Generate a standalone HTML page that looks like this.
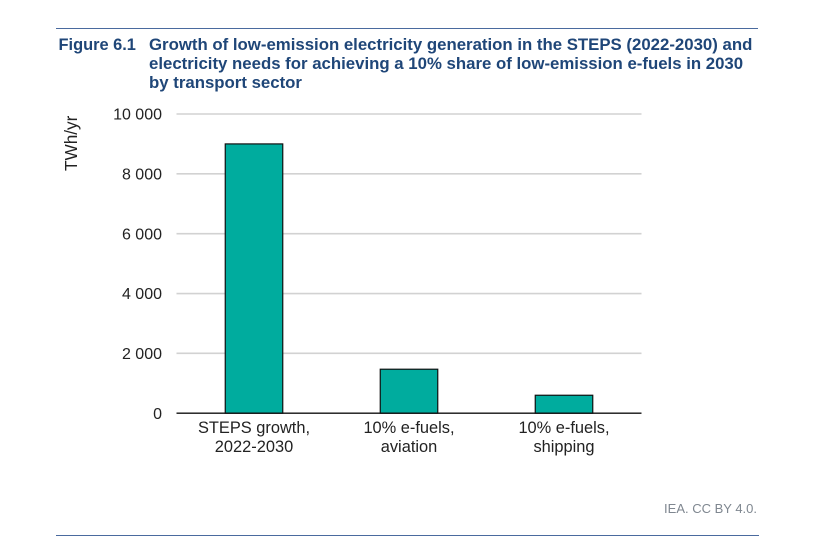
<!DOCTYPE html>
<html lang="en">
<head>
<meta charset="utf-8">
<title>Figure 6.1</title>
<style>
html,body{margin:0;padding:0;background:#fff;}
body{width:832px;height:559px;overflow:hidden;position:relative;font-family:"Liberation Sans",sans-serif;}
svg{position:absolute;left:0;top:0;}
</style>
</head>
<body>
<svg id="chart" width="832" height="559" viewBox="0 0 832 559" font-family="'Liberation Sans',sans-serif">
<line x1="56" y1="28.5" x2="758" y2="28.5" stroke="#4a6a9e" stroke-width="1"/>
<g font-size="16.8" font-weight="bold" fill="#1f4678">
<text x="58.5" y="50" font-size="16.4">Figure 6.1</text>
<text x="149" y="50">Growth of low-emission electricity generation in the STEPS (2022-2030) and</text>
<text x="149" y="69">electricity needs for achieving a 10% share of low-emission e-fuels in 2030</text>
<text x="149" y="88">by transport sector</text>
</g>
<g id="grid"></g>
<g id="yticks"></g>
<g id="bars"></g>
<line id="baseline" stroke="#111" stroke-width="1.3"/>
<g id="xlabels"></g>
<text transform="translate(77,171) rotate(-90)" font-size="17.2" fill="#222">TWh/yr</text>
<text x="757" y="513" text-anchor="end" font-size="13" fill="#7f8790">IEA. CC BY 4.0.</text>
<line x1="56" y1="535.5" x2="759" y2="535.5" stroke="#4a6a9e" stroke-width="1"/>
</svg>
<script>
const categoryLines = [["STEPS growth,", "2022-2030"], ["10% e-fuels,", "aviation"], ["10% e-fuels,", "shipping"]];
const seriesValues = [9000, 1470, 600];
const tickValues = [0, 2000, 4000, 6000, 8000, 10000];
const tickLabels = ["0", "2 000", "4 000", "6 000", "8 000", "10 000"];

const NS = "http://www.w3.org/2000/svg";
const plot = {left: 176.5, right: 641.5, top: 114, bottom: 413.2, max: 10000, barWidth: 57.5};
function yScale(v) { return plot.bottom - (v / plot.max) * (plot.bottom - plot.top); }
function xCenter(i) { return plot.left + (plot.right - plot.left) * (i + 0.5) / categoryLines.length; }
function make(tag, attrs, parent, text) {
  const el = document.createElementNS(NS, tag);
  for (const k in attrs) el.setAttribute(k, attrs[k]);
  if (text !== undefined) el.textContent = text;
  parent.appendChild(el);
  return el;
}
const grid = document.getElementById("grid");
const yticks = document.getElementById("yticks");
const barsG = document.getElementById("bars");
const xlabels = document.getElementById("xlabels");









tickValues.forEach(function (v, i) {
  const y = yScale(v);
  if (v !== 0) {
    const g = make("line", {x1: plot.left, x2: plot.right, y1: y, y2: y, stroke: "#d2d2d2", "stroke-width": 1.6}, grid);
    
    
  }
  const t = make("text", {x: 162, y: y + 5.6, "text-anchor": "end", "font-size": 16, fill: "#222"}, yticks, tickLabels[i]);
  
  
});

seriesValues.forEach(function (v, i) {
  const cx = xCenter(i);
  const r = make("rect", {x: cx - plot.barWidth / 2, y: yScale(v), width: plot.barWidth, height: plot.bottom - yScale(v), fill: "#00ac9e", stroke: "#111", "stroke-width": 1.2}, barsG);
  
  
  categoryLines[i].forEach(function (line, j) {
    const t = make("text", {x: cx, y: 433 + j * 19, "text-anchor": "middle", "font-size": 16.4, fill: "#222"}, xlabels, line);
    
    
  });
});

const base = document.getElementById("baseline");
base.setAttribute("x1", plot.left);
base.setAttribute("x2", plot.right);
base.setAttribute("y1", plot.bottom);
base.setAttribute("y2", plot.bottom);


</script>
</body>
</html>
